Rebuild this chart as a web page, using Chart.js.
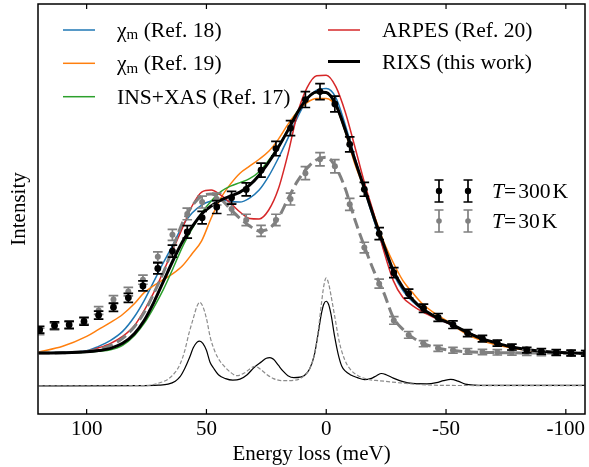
<!DOCTYPE html>
<html>
<head>
<meta charset="utf-8">
<script src="https://cdn.jsdelivr.net/npm/chart.js@4.4.0/dist/chart.umd.min.js"></script>
<style>
  html, body { margin: 0; padding: 0; background: #fff; }
  canvas { display: block; }
</style>
</head>
<body>
<canvas id="chart" width="589" height="467"></canvas>
<script>
const FONT = '"Liberation Serif", "DejaVu Serif", serif'

// measured spectra (energy loss in meV), both temperatures share the energies
const energy = [119.6, 113.4, 107.3, 101.1, 95.0, 88.8, 82.6, 76.5, 70.3, 64.2, 58.0, 51.8, 45.7, 39.5, 33.4, 27.2, 21.0, 14.9, 8.7, 2.6,
  -3.6, -9.8, -15.9, -22.1, -28.2, -34.4, -40.6, -46.7, -52.9, -59.0, -65.2, -71.4, -77.5, -83.7, -89.8, -96.0, -102.2, -108.3]
const int300 = [0.567, 0.61, 0.617, 0.65, 0.713, 0.793, 0.887, 1.007, 1.183, 1.357, 1.55, 1.693, 1.80, 1.893, 1.977, 2.17, 2.387, 2.593, 2.88, 2.96,
  2.835, 2.43, 1.978, 1.533, 1.14, 0.93, 0.783, 0.69, 0.617, 0.533, 0.477, 0.433, 0.393, 0.363, 0.35, 0.34, 0.333, 0.33]
const err300 = [0.035, 0.036, 0.037, 0.037, 0.04, 0.042, 0.045, 0.05, 0.055, 0.06, 0.062, 0.063, 0.065, 0.065, 0.066, 0.07, 0.072, 0.075, 0.08, 0.08,
  0.08, 0.075, 0.07, 0.06, 0.05, 0.045, 0.042, 0.04, 0.038, 0.035, 0.033, 0.03, 0.03, 0.028, 0.028, 0.028, 0.028, 0.028]
const int30 = [0.55, 0.60, 0.61, 0.66, 0.76, 0.87, 0.95, 1.07, 1.30, 1.52, 1.73, 1.85, 1.88, 1.78, 1.67, 1.56, 1.67, 1.88, 2.14, 2.28,
  2.21, 1.827, 1.393, 1.03, 0.66, 0.515, 0.427, 0.38, 0.36, 0.35, 0.343, 0.34, 0.337, 0.335, 0.333, 0.332, 0.33, 0.33]
const err30 = [0.033, 0.034, 0.035, 0.036, 0.038, 0.04, 0.043, 0.046, 0.05, 0.055, 0.058, 0.06, 0.06, 0.058, 0.057, 0.056, 0.057, 0.06, 0.065, 0.067,
  0.066, 0.06, 0.053, 0.045, 0.038, 0.034, 0.031, 0.03, 0.029, 0.028, 0.027, 0.027, 0.026, 0.026, 0.026, 0.026, 0.026, 0.026]

// model curves on a common energy grid
const fitE = [120, 110, 100, 95, 90, 85, 80, 76, 72, 68, 64, 60, 56, 52, 48, 44, 40, 36, 32, 28, 24, 20, 16, 12, 8, 4, 0,
  -4, -8, -12, -16, -20, -24, -28, -32, -36, -40, -46, -52, -58, -64, -70, -78, -86, -94, -108]
const fitRef18 = [0.335, 0.34, 0.355, 0.40, 0.46, 0.55, 0.70, 0.86, 1.05, 1.24, 1.42, 1.61, 1.74, 1.82, 1.86, 1.875, 1.855, 1.85, 1.89, 1.97, 2.11, 2.29, 2.49, 2.70, 2.88, 2.975, 2.99,
  2.90, 2.62, 2.29, 1.97, 1.66, 1.38, 1.13, 0.96, 0.85, 0.77, 0.68, 0.62, 0.55, 0.49, 0.44, 0.39, 0.36, 0.343, 0.33]
const fitRef19 = [0.343, 0.40, 0.50, 0.57, 0.64, 0.72, 0.83, 0.94, 1.01, 1.07, 1.13, 1.21, 1.33, 1.46, 1.69, 1.89, 2.03, 2.14, 2.21, 2.28, 2.36, 2.48, 2.63, 2.76, 2.85, 2.89, 2.89,
  2.81, 2.55, 2.23, 1.98, 1.72, 1.45, 1.24, 1.06, 0.94, 0.83, 0.72, 0.63, 0.53, 0.465, 0.42, 0.38, 0.355, 0.34, 0.33]
const fitRef17 = [0.332, 0.333, 0.34, 0.35, 0.365, 0.41, 0.51, 0.63, 0.79, 0.97, 1.18, 1.40, 1.58, 1.74, 1.86, 1.955, 2.01, 2.045, 2.085, 2.155, 2.27, 2.41, 2.58, 2.76, 2.89, 2.95, 2.945,
  2.82, 2.56, 2.27, 1.98, 1.69, 1.42, 1.16, 0.99, 0.87, 0.78, 0.695, 0.63, 0.555, 0.485, 0.44, 0.39, 0.36, 0.343, 0.33]
const fitArpes = [0.333, 0.335, 0.35, 0.385, 0.43, 0.50, 0.61, 0.76, 0.94, 1.15, 1.37, 1.59, 1.81, 1.95, 1.97, 1.92, 1.84, 1.75, 1.685, 1.68, 1.77, 1.98, 2.33, 2.74, 3.00, 3.12, 3.125,
  3.01, 2.75, 2.40, 2.04, 1.72, 1.36, 1.06, 0.89, 0.81, 0.75, 0.68, 0.62, 0.555, 0.49, 0.44, 0.39, 0.36, 0.342, 0.33]
const fitRixs = [0.333, 0.336, 0.345, 0.357, 0.38, 0.43, 0.53, 0.66, 0.84, 1.05, 1.26, 1.45, 1.60, 1.73, 1.81, 1.87, 1.91, 1.95, 2.02, 2.12, 2.25, 2.40, 2.57, 2.75, 2.89, 2.955, 2.95,
  2.83, 2.57, 2.27, 1.98, 1.69, 1.42, 1.16, 0.99, 0.87, 0.78, 0.69, 0.625, 0.55, 0.485, 0.44, 0.39, 0.36, 0.343, 0.33]
const fit30 = [0.333, 0.335, 0.347, 0.37, 0.41, 0.48, 0.60, 0.74, 0.93, 1.14, 1.39, 1.64, 1.81, 1.91, 1.93, 1.88, 1.78, 1.685, 1.61, 1.56, 1.58, 1.69, 1.88, 2.06, 2.19, 2.275, 2.30,
  2.20, 1.98, 1.67, 1.40, 1.15, 0.94, 0.69, 0.57, 0.49, 0.435, 0.385, 0.36, 0.347, 0.34, 0.337, 0.335, 0.333, 0.332, 0.33]

// spectral functions at the bottom
const lowE300 = [120, 80, 70, 66, 63, 61, 59, 57, 55.5, 54, 52.8, 51.5, 50, 48.5, 47, 45, 42, 39, 36, 33, 30, 27, 25, 23.5, 22, 20, 18, 16, 13.5, 11,
  9, 7, 5, 3.5, 2, 1, 0, -1, -2, -3.5, -5, -6.5, -8, -10, -13, -16, -18.5, -21, -23, -25, -28, -32, -36, -42, -46, -49, -52, -55, -58, -62, -70, -108]
const low300 = [0.003, 0.005, 0.01, 0.02, 0.05, 0.095, 0.18, 0.29, 0.385, 0.44, 0.453, 0.43, 0.36, 0.24, 0.18, 0.115, 0.075, 0.06, 0.07, 0.115, 0.19, 0.245, 0.28, 0.287, 0.27, 0.21, 0.15, 0.105, 0.085, 0.09,
  0.11, 0.17, 0.31, 0.51, 0.73, 0.825, 0.853, 0.82, 0.72, 0.50, 0.32, 0.20, 0.15, 0.115, 0.085, 0.065, 0.075, 0.105, 0.127, 0.115, 0.08, 0.045, 0.027, 0.023, 0.035, 0.055, 0.067, 0.05, 0.02, 0.01, 0.007, 0.007]
const lowE30 = [120, 75, 70, 66, 63, 61, 59, 57.3, 55.5, 54, 52.8, 51.5, 50, 48.4, 46.5, 44.3, 42, 40, 37.3, 34, 31.5, 29.7, 27.5, 25, 22, 18, 13, 10, 7, 5,
  3.5, 2, 1, 0, -1, -2, -3.6, -5.5, -7.8, -10, -13.3, -18, -22, -30, -40, -50, -108]
const low30 = [0.003, 0.005, 0.03, 0.07, 0.14, 0.22, 0.36, 0.53, 0.68, 0.80, 0.843, 0.80, 0.68, 0.49, 0.35, 0.25, 0.185, 0.14, 0.105, 0.135, 0.18, 0.20, 0.17, 0.12, 0.075, 0.055, 0.06, 0.09, 0.17, 0.31,
  0.53, 0.83, 1.01, 1.087, 1.03, 0.91, 0.693, 0.44, 0.26, 0.17, 0.105, 0.065, 0.055, 0.035, 0.015, 0.007, 0.005]

const xTicks = [100, 50, 0, -50, -100]

function pts(xs, ys) {
  return xs.map((x, i) => ({ x: x, y: ys[i] }))
}

function curve(xs, ys, color, width, order, dash) {
  return {
    data: pts(xs, ys),
    borderColor: color,
    borderWidth: width,
    borderDash: dash || [],
    pointRadius: 0,
    fill: false,
    cubicInterpolationMode: 'monotone',
    order: order,
  }
}

function markers(ys, errs, color, radius, order) {
  return {
    data: pts(energy, ys),
    errors: errs,
    showLine: false,
    borderColor: color,
    pointBackgroundColor: color,
    pointBorderWidth: 0,
    pointRadius: radius,
    order: order,
  }
}

function errorBar(ctx, x, y0, y1, cap) {
  ctx.beginPath()
  ctx.moveTo(x, y0); ctx.lineTo(x, y1)
  ctx.moveTo(x - cap, y0); ctx.lineTo(x + cap, y0)
  ctx.moveTo(x - cap, y1); ctx.lineTo(x + cap, y1)
  ctx.stroke()
}

const errorBars = {
  id: 'errorBars',
  beforeDatasetDraw(chart, args) {
    const ds = chart.data.datasets[args.index]
    if (!ds.errors) return
    const ctx = chart.ctx
    const y = chart.scales.y
    const a = chart.chartArea
    ctx.save()
    ctx.beginPath()
    ctx.rect(a.left, a.top, a.right - a.left, a.bottom - a.top)
    ctx.clip()
    ctx.strokeStyle = ds.borderColor
    ctx.lineWidth = 1.7
    args.meta.data.forEach((p, i) => {
      const v = ds.data[i].y
      const e = ds.errors[i]
      errorBar(ctx, p.x, y.getPixelForValue(v - e), y.getPixelForValue(v + e), 4.8)
    })
    ctx.restore()
  },
}

function drawLabel(ctx, x, y, parts) {
  // parts: [text, isSubscript]
  for (const [text, sub] of parts) {
    ctx.font = (sub ? '15px ' : '21.6px ') + FONT
    ctx.fillText(text, x, sub ? y + 4 : y)
    x += ctx.measureText(text).width
  }
}

const lineLegend = [
  { x: 63, y: 30, color: '#1f77b4', width: 1.5, parts: [['χ'], ['m', true], [' (Ref. 18)']] },
  { x: 63, y: 63.3, color: '#ff7f0e', width: 1.5, parts: [['χ'], ['m', true], [' (Ref. 19)']] },
  { x: 63, y: 96.7, color: '#2ca02c', width: 1.5, parts: [['INS+XAS (Ref. 17)']] },
  { x: 328, y: 30, color: '#d62728', width: 1.5, parts: [['ARPES (Ref. 20)']] },
  { x: 328, y: 61.5, color: '#000000', width: 3, parts: [['RIXS (this work)']] },
]

const decorations = {
  id: 'decorations',
  afterDatasetsDraw(chart) {
    const { ctx, chartArea: a, scales: { x } } = chart
    ctx.save()
    ctx.strokeStyle = '#000'
    ctx.lineWidth = 1.5
    ctx.strokeRect(a.left, a.top, a.right - a.left, a.bottom - a.top)
    ctx.lineWidth = 1.2
    xTicks.forEach((v) => {
      const px = x.getPixelForValue(v)
      ctx.beginPath()
      ctx.moveTo(px, a.bottom); ctx.lineTo(px, a.bottom - 5)
      ctx.moveTo(px, a.top); ctx.lineTo(px, a.top + 5)
      ctx.stroke()
    })

    // line legend, two columns
    ctx.fillStyle = '#000'
    ctx.textBaseline = 'middle'
    ctx.textAlign = 'left'
    for (const item of lineLegend) {
      ctx.strokeStyle = item.color
      ctx.lineWidth = item.width
      ctx.beginPath()
      ctx.moveTo(item.x, item.y); ctx.lineTo(item.x + 32, item.y)
      ctx.stroke()
      drawLabel(ctx, item.x + 54, item.y + 1.5, item.parts)
    }

    // temperature legend
    const temps = [
      { y: 191, color: '#000000', r: 3.2, label: '300' },
      { y: 221, color: '#808080', r: 2.8, label: '30' },
    ]
    for (const t of temps) {
      ctx.strokeStyle = t.color
      ctx.fillStyle = t.color
      ctx.lineWidth = 1.7
      for (const hx of [439, 468]) {
        errorBar(ctx, hx, t.y - 11, t.y + 11, 4.5)
        ctx.beginPath()
        ctx.arc(hx, t.y, t.r, 0, Math.PI * 2)
        ctx.fill()
      }
      ctx.fillStyle = '#000'
      let tx = 492
      ctx.font = 'italic 21.6px ' + FONT
      ctx.fillText('T', tx, t.y + 1)
      tx += ctx.measureText('T').width
      ctx.font = '21.6px ' + FONT
      ctx.fillText('=', tx, t.y + 1)
      tx += ctx.measureText('=').width + 2
      ctx.fillText(t.label, tx, t.y + 1)
      tx += ctx.measureText(t.label).width + 2
      ctx.fillText('K', tx, t.y + 1)
    }
    ctx.restore()
  },
}

new Chart(document.getElementById('chart'), {
  type: 'line',
  data: {
    datasets: [
      markers(int300, err300, '#000000', 3.4, 1),
      markers(int30, err30, '#808080', 3, 2),
      curve(fitE, fitRixs, '#000000', 3, 3),
      curve(fitE, fit30, '#808080', 3, 4, [11, 5]),
      curve(fitE, fitArpes, '#d62728', 1.5, 5),
      curve(fitE, fitRef17, '#2ca02c', 1.5, 6),
      curve(fitE, fitRef19, '#ff7f0e', 1.5, 7),
      curve(fitE, fitRef18, '#1f77b4', 1.5, 8),
      curve(lowE30, low30, '#8c8c8c', 1.2, 9, [4, 2]),
      curve(lowE300, low300, '#000000', 1.2, 10),
    ],
  },
  options: {
    responsive: false,
    animation: false,
    devicePixelRatio: 1,
    layout: { padding: { top: 2, right: 1, left: 0, bottom: 0 } },
    plugins: { legend: { display: false }, tooltip: { enabled: false } },
    scales: {
      x: {
        type: 'linear',
        reverse: true,
        min: -108,
        max: 120.3,
        afterBuildTicks: (s) => { s.ticks = xTicks.map((v) => ({ value: v })) },
        afterFit: (s) => { s.height = 53 },
        grid: { display: false, drawTicks: false },
        border: { display: false },
        ticks: {
          color: '#000',
          font: { family: FONT, size: 21 },
          padding: 3,
          maxRotation: 0,
          autoSkip: false,
          callback: (v) => String(v),
        },
        title: {
          display: true,
          text: 'Energy loss (meV)',
          color: '#000',
          font: { family: FONT, size: 21 },
          padding: { top: 0, bottom: 0 },
        },
      },
      y: {
        type: 'linear',
        min: -0.28,
        max: 3.84,
        afterFit: (s) => { s.width = 38 },
        grid: { display: false, drawTicks: false },
        border: { display: false },
        ticks: { display: false },
        title: {
          display: true,
          text: 'Intensity',
          color: '#000',
          font: { family: FONT, size: 21 },
          padding: { top: 7, bottom: 0 },
        },
      },
    },
  },
  plugins: [errorBars, decorations],
})
</script>
</body>
</html>
